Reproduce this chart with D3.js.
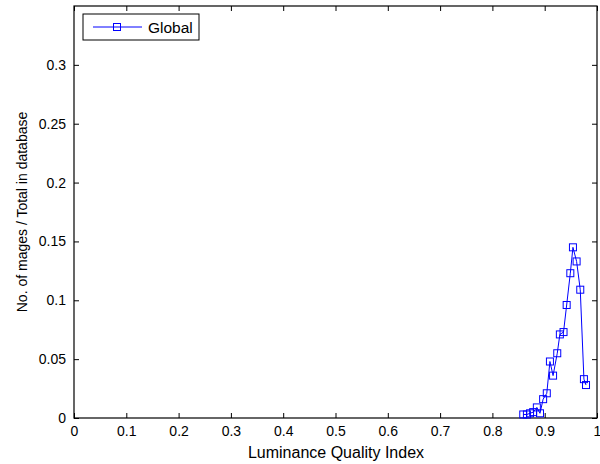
<!DOCTYPE html>
<html>
<head>
<meta charset="utf-8">
<script src="https://cdn.jsdelivr.net/npm/d3@7"></script>
<style>
  body { margin: 0; background: #fff; }
  svg { display: block; font-family: "Liberation Sans", Arial, sans-serif; }
</style>
</head>
<body>
<svg id="chart" width="600" height="464"></svg>
<script>
// values
var quality = [0.859, 0.866, 0.872, 0.878, 0.885, 0.891, 0.897, 0.904, 0.910, 0.916,
               0.924, 0.929, 0.936, 0.942, 0.949, 0.954, 0.961, 0.968, 0.975, 0.979];
var fraction = [0.003, 0.003, 0.004, 0.005, 0.009, 0.004, 0.016, 0.021, 0.048, 0.036,
                0.055, 0.071, 0.073, 0.096, 0.123, 0.145, 0.133, 0.109, 0.033, 0.028];
var xTicks = [0, 0.1, 0.2, 0.3, 0.4, 0.5, 0.6, 0.7, 0.8, 0.9, 1];
var yTicks = [0, 0.05, 0.1, 0.15, 0.2, 0.25, 0.3];
var seriesName = "Global";

var margin = {top: 6, right: 3, bottom: 46, left: 74},
    width = 600 - margin.left - margin.right,
    height = 464 - margin.top - margin.bottom;

var svg = d3.select("#chart");
var g = svg.append("g")
    .attr("transform", "translate(" + margin.left + "," + margin.top + ")");

var x = d3.scaleLinear().domain([0, 1]).range([0, width]);
var y = d3.scaleLinear().domain([0, 0.35]).range([height, 0]);

var fmt = function(d) { return String(+d.toFixed(2)); };

function styleAxis(sel, hideText) {
  sel.select(".domain").remove();
  sel.selectAll("line").attr("stroke", "#000");
  sel.selectAll("text")
      .attr("fill", "#000")
      .style("font-size", "14px")
      .style("font-family", "'Liberation Sans', Arial, sans-serif");
  if (hideText) sel.selectAll("text").remove();
}

// ticks on all four sides, pointing inward
g.append("g").attr("transform", "translate(0," + height + ")")
    .call(d3.axisBottom(x).tickValues(xTicks).tickFormat(fmt).tickSizeInner(-5).tickSizeOuter(0).tickPadding(8))
    .call(styleAxis, false);
g.append("g")
    .call(d3.axisTop(x).tickValues(xTicks).tickSizeInner(-5).tickSizeOuter(0))
    .call(styleAxis, true);
g.append("g")
    .call(d3.axisLeft(y).tickValues(yTicks).tickFormat(fmt).tickSizeInner(-5).tickSizeOuter(0).tickPadding(8))
    .call(styleAxis, false);
g.append("g").attr("transform", "translate(" + width + ",0)")
    .call(d3.axisRight(y).tickValues(yTicks).tickSizeInner(-5).tickSizeOuter(0))
    .call(styleAxis, true);

g.append("rect")
    .attr("width", width)
    .attr("height", height)
    .attr("fill", "none")
    .attr("stroke", "#000")
    .attr("stroke-width", 1.2);

var pts = quality.map(function(q, i) { return [q, fraction[i]]; });

var line = d3.line()
    .x(function(d) { return x(d[0]); })
    .y(function(d) { return y(d[1]); });

g.append("path")
    .datum(pts)
    .attr("d", line)
    .attr("fill", "none")
    .attr("stroke", "#0000ff")
    .attr("stroke-width", 1);

var m = 7;
g.selectAll(".marker")
    .data(pts)
  .enter().append("rect")
    .attr("class", "marker")
    .attr("x", function(d) { return x(d[0]) - m / 2; })
    .attr("y", function(d) { return y(d[1]) - m / 2; })
    .attr("width", m)
    .attr("height", m)
    .attr("fill", "none")
    .attr("stroke", "#0000ff")
    .attr("stroke-width", 1);

// legend
var lg = svg.append("g").attr("transform", "translate(83,14)");
lg.append("rect")
    .attr("width", 116)
    .attr("height", 26)
    .attr("fill", "#fff")
    .attr("stroke", "#000")
    .attr("stroke-width", 1);
lg.append("line")
    .attr("x1", 10).attr("x2", 59)
    .attr("y1", 13).attr("y2", 13)
    .attr("stroke", "#0000ff");
lg.append("rect")
    .attr("x", 34 - m / 2).attr("y", 13 - m / 2)
    .attr("width", m).attr("height", m)
    .attr("fill", "none")
    .attr("stroke", "#0000ff");
lg.append("text")
    .attr("x", 65).attr("y", 18.5)
    .style("font-size", "15.5px")
    .text(seriesName);

// axis labels
svg.append("text")
    .attr("x", 336)
    .attr("y", 458)
    .attr("text-anchor", "middle")
    .style("font-size", "16px")
    .text("Luminance Quality Index");

svg.append("text")
    .attr("transform", "translate(27," + (margin.top + height / 2) + ") rotate(-90)")
    .attr("text-anchor", "middle")
    .style("font-size", "14px")
    .text("No. of mages / Total in database");
</script>
</body>
</html>
